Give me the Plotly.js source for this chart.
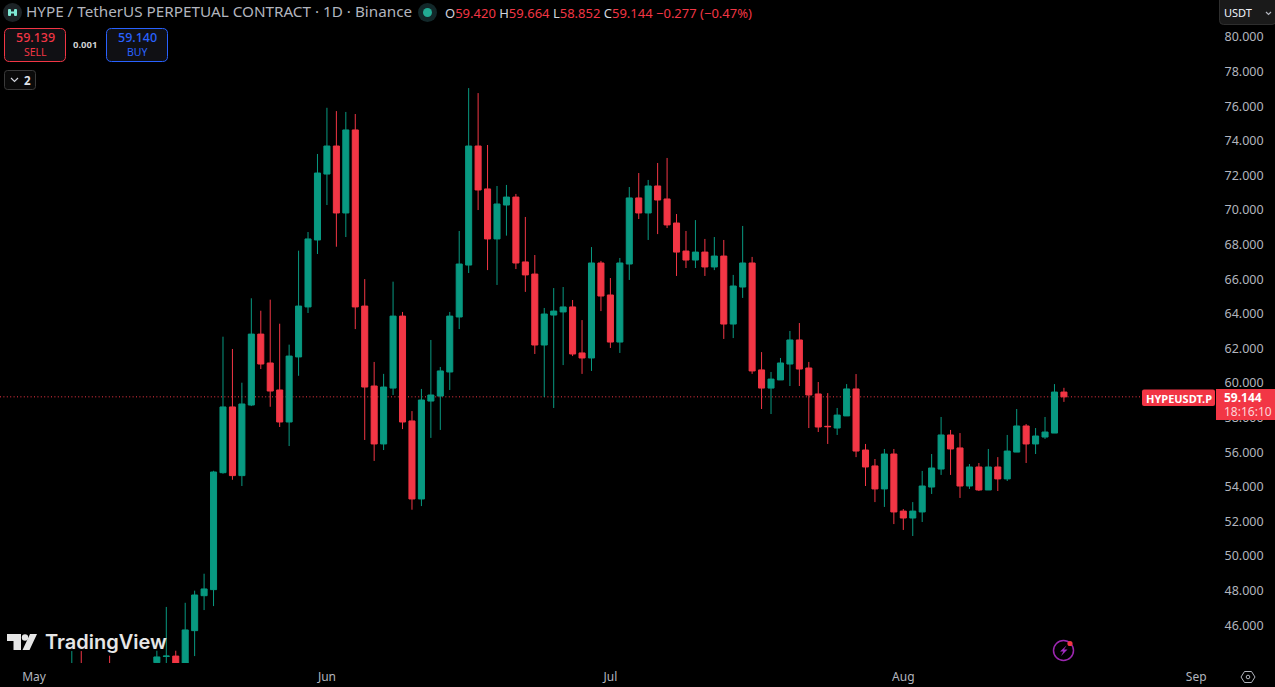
<!DOCTYPE html>
<html>
<head>
<meta charset="utf-8">
<script src="https://cdn.plot.ly/plotly-3.0.1.min.js"></script>
<style>html,body{margin:0;padding:0;background:#000;overflow:hidden}#chart{width:1275px;height:687px}</style>
</head>
<body>
<div id="chart"></div>
<script>
const dates = ["2025-05-05","2025-05-06","2025-05-09","2025-05-14","2025-05-15","2025-05-16","2025-05-17","2025-05-18","2025-05-19","2025-05-20","2025-05-21","2025-05-22","2025-05-23","2025-05-24","2025-05-25","2025-05-26","2025-05-27","2025-05-28","2025-05-29","2025-05-30","2025-05-31",
"2025-06-01","2025-06-02","2025-06-03","2025-06-04","2025-06-05","2025-06-06","2025-06-07","2025-06-08","2025-06-09","2025-06-10","2025-06-11","2025-06-12","2025-06-13","2025-06-14","2025-06-15","2025-06-16","2025-06-17","2025-06-18","2025-06-19","2025-06-20","2025-06-21","2025-06-22","2025-06-23","2025-06-24","2025-06-25","2025-06-26","2025-06-27","2025-06-28","2025-06-29","2025-06-30",
"2025-07-01","2025-07-02","2025-07-03","2025-07-04","2025-07-05","2025-07-06","2025-07-07","2025-07-08","2025-07-09","2025-07-10","2025-07-11","2025-07-12","2025-07-13","2025-07-14","2025-07-15","2025-07-16","2025-07-17","2025-07-18","2025-07-19","2025-07-20","2025-07-21","2025-07-22","2025-07-23","2025-07-24","2025-07-25","2025-07-26","2025-07-27","2025-07-28","2025-07-29","2025-07-30","2025-07-31",
"2025-08-01","2025-08-02","2025-08-03","2025-08-04","2025-08-05","2025-08-06","2025-08-07","2025-08-08","2025-08-09","2025-08-10","2025-08-11","2025-08-12","2025-08-13","2025-08-14","2025-08-15","2025-08-16","2025-08-17","2025-08-18"];
const opens = [43.2,43.6,43.5,43.78,44.14,44.16,43.76,45.63,47.65,48.0,54.76,58.56,54.59,58.67,62.77,61.10,59.54,57.69,61.45,64.34,68.21,
72.02,73.64,69.77,74.57,64.39,59.77,56.42,59.65,63.81,57.75,53.24,58.90,59.19,60.58,63.76,66.76,73.64,71.16,68.27,70.23,70.69,66.94,66.24,62.14,63.87,64.05,64.34,61.68,61.39,66.88,
65.03,62.31,66.82,70.64,69.77,71.33,70.58,69.19,67.57,67.05,67.51,66.65,67.28,63.35,65.49,66.88,60.70,59.65,60.12,61.04,62.43,60.81,59.31,57.44,57.34,58.04,59.60,56.07,55.15,53.82,55.84,
52.54,52.14,52.49,53.93,54.97,56.94,56.19,53.99,55.09,53.76,55.09,54.40,55.95,57.46,56.42,56.82,57.05,59.42];
const highs = [44.45,44.45,44.18,44.47,47.00,44.47,47.24,47.94,48.92,54.87,62.62,61.91,59.96,64.84,64.12,64.76,63.37,62.16,67.59,68.67,73.18,
75.85,75.66,75.61,75.49,65.95,61.16,60.47,65.80,64.05,58.32,59.60,62.43,60.87,64.05,68.73,76.99,76.70,73.70,71.33,71.39,70.87,69.54,67.34,64.28,65.43,65.49,64.74,63.58,67.80,67.00,
66.01,67.17,71.27,72.08,71.68,72.66,72.95,69.71,68.73,69.36,68.27,68.38,68.21,66.19,69.02,67.23,61.73,60.58,61.39,62.95,63.41,61.16,60.00,59.36,58.50,59.88,60.46,56.42,55.55,56.13,56.13,
52.66,53.06,54.86,55.84,57.98,57.23,57.05,55.26,55.32,56.13,55.66,56.94,58.44,57.57,57.34,57.98,59.88,59.664];
const lows = [43.0,43.1,43.0,43.6,43.7,43.6,43.6,44.16,46.82,47.05,54.70,54.35,53.99,58.61,60.75,58.57,57.40,56.30,60.36,63.99,67.40,
70.23,67.82,68.38,63.06,56.65,55.44,56.07,59.25,57.28,52.62,52.83,56.77,57.23,59.54,63.06,66.30,69.94,66.47,65.61,68.46,66.53,65.21,61.62,59.13,58.50,60.98,61.50,60.47,60.64,64.10,
61.97,61.68,65.90,69.42,68.21,68.55,68.90,66.13,66.59,66.59,66.13,66.47,62.49,62.54,64.86,60.47,58.44,58.15,60.12,59.77,59.77,57.34,57.11,56.42,56.94,58.04,55.66,53.99,53.06,52.78,51.79,
51.45,51.10,51.91,53.53,54.63,54.63,53.30,53.82,53.70,53.76,53.70,54.28,55.95,55.32,55.84,56.71,57.05,58.852];
const closes = [43.5,43.3,43.2,44.11,44.16,43.76,45.67,47.69,48.04,54.80,58.56,54.59,58.73,62.77,61.04,59.48,57.69,61.50,64.39,68.27,72.08,
73.64,69.77,74.57,64.34,59.71,56.42,59.71,63.81,57.69,53.24,58.96,59.25,60.64,63.81,66.82,73.64,71.10,68.27,70.29,70.69,66.88,66.19,62.14,63.93,64.10,64.34,61.62,61.39,66.88,64.97,
62.31,66.88,70.64,69.77,71.33,70.52,69.08,67.51,67.05,67.51,66.65,67.28,63.35,65.55,66.88,60.64,59.65,60.17,61.10,62.43,60.75,59.25,57.40,57.42,58.09,59.60,56.01,55.09,53.82,55.84,52.49,
52.14,52.54,53.99,55.03,56.94,56.13,53.99,55.09,53.76,55.09,54.40,56.01,57.46,56.42,56.88,57.11,59.42,59.144];

const monthTickVals = ["2025-05-01","2025-06-01","2025-07-01","2025-08-01","2025-09-01"];
const monthTickText = ["May","Jun","Jul","Aug","Sep"];
const priceTickVals = [46,48,50,52,54,56,58,60,62,64,66,68,70,72,74,76,78,80];
const lastPrice = 59.144;

const GREEN = "#089981", RED = "#f23645", BLUE = "#2962ff", AXIS = "#b2b5be";
const FONT = "'Noto Sans', sans-serif";
const PW = 1217, PH = 663;
const X = x => x / PW, Y = y => 1 - y / PH;

function note(x, y, text, size, color, anchor, family, weight) {
  return {xref:"paper", yref:"paper", x:X(x), y:Y(y), text, showarrow:false, xanchor:anchor||"left", yanchor:"middle",
    font:{size, color, family:family||FONT, weight:weight||400}, borderpad:0, borderwidth:0};
}
function pts(list, close) {
  return list.map((p,i)=>(i?"L":"M")+X(p[0])+","+Y(p[1])).join(" ")+(close?" Z":"");
}
function poly(list, fill, stroke, w) {
  return {type:"path", xref:"paper", yref:"paper", layer:"above", path:pts(list, !!fill),
    fillcolor:fill||"rgba(0,0,0,0)", line:{color:stroke||"rgba(0,0,0,0)", width:stroke?(w||1):0}};
}
function rr(x0,y0,x1,y1,r,fill,stroke,w) {
  const q=(a,b)=>X(a)+","+Y(b);
  const path="M"+q(x0+r,y0)+" L"+q(x1-r,y0)+" Q"+q(x1,y0)+" "+q(x1,y0+r)+" L"+q(x1,y1-r)+" Q"+q(x1,y1)+" "+q(x1-r,y1)+
    " L"+q(x0+r,y1)+" Q"+q(x0,y1)+" "+q(x0,y1-r)+" L"+q(x0,y0+r)+" Q"+q(x0,y0)+" "+q(x0+r,y0)+" Z";
  return {type:"path", xref:"paper", yref:"paper", layer:"above", path, fillcolor:fill,
    line:{color:stroke||"rgba(0,0,0,0)", width:stroke?(w||1):0}};
}
function circ(cx,cy,r,fill,stroke,w) {
  return {type:"circle", xref:"paper", yref:"paper", layer:"above", x0:X(cx-r), x1:X(cx+r), y0:Y(cy+r), y1:Y(cy-r),
    fillcolor:fill||"rgba(0,0,0,0)", line:{color:stroke||"rgba(0,0,0,0)", width:stroke?(w||1):0}};
}

const shapes = [
  {type:"line", xref:"paper", yref:"y", layer:"below", x0:0, x1:X(1143), y0:lastPrice, y1:lastPrice, line:{color:RED, width:1, dash:"1px,2.4px"}},
  // symbol icon
  circ(12.5,12.5,9.5,"#1c2226"),
  rr(8,9,11,16,1,"#7fe8d5"), rr(14,9,17,16,1,"#7fe8d5"), rr(10,11.5,15,13.5,0,"#7fe8d5"),
  // market status dot
  circ(427.5,12.5,9.5,"#12282a"), circ(427.5,12.5,4.5,"#22ab94"),
  // sell / buy / collapse
  rr(4.5,28.5,65.5,61.5,5,"#101014",RED,1), rr(106.5,28.5,167.5,61.5,5,"#101014",BLUE,1),
  rr(4.5,70.5,35.5,89.5,3,"#0a0a0a","#3a3a3a",1),
  poly([[11,78],[14.5,81.5],[18,78]],null,"#d1d4dc",1.2),
  // currency button
  rr(1219.5,-6,1276,24.5,4,"#1a1a1a","#2e2e2e",1),
  poly([[1266,12],[1268.5,14.5],[1271,12]],null,"#b2b5be",1.2),
  // last price labels
  rr(1142,389.5,1215,406,2,RED), {type:"rect", xref:"paper", yref:"paper", layer:"above", x0:X(1216), x1:X(1275), y0:Y(420), y1:Y(389), fillcolor:RED, line:{width:0}},
  // logo mark
  poly([[7,634],[21,634],[21,650],[13.5,650],[13.5,641],[7,641]],"#e6e6e6"),
  circ(25,637.5,3.2,"#e6e6e6"),
  poly([[30,634],[37,634],[29.5,650],[22.5,650]],"#e6e6e6"),
  // bolt badge
  circ(1063.5,650.5,10,"rgba(0,0,0,0)","#9c27b0",1.5),
  poly([[1066.5,645.5],[1060,651.5],[1063.3,651.5],[1061,656],[1067.5,649.5],[1064,649.5]],"#a32cc4"),
  circ(1070,643.5,2.6,RED),
  // settings hexagon
  poly([[1241,677],[1244.5,671.5],[1251.5,671.5],[1255,677],[1251.5,682.5],[1244.5,682.5]],"rgba(0,0,0,0)",AXIS,1),
  circ(1248,677,1.8,"rgba(0,0,0,0)",AXIS,1)
];

const annotations = [
  note(445,12.5,
    "<span style='color:#d1d4dc'>O</span>59.420 <span style='color:#d1d4dc'>H</span>59.664 <span style='color:#d1d4dc'>L</span>58.852 <span style='color:#d1d4dc'>C</span>59.144 −0.277 (−0.47%)",
    13,RED),
  note(35,37.5,"59.139",12.5,RED,"center",FONT,500), note(35,52.5,"SELL",10.5,RED,"center"),
  note(85,44.5,"<b>0.001</b>",9.5,"#cfcfcf","center"),
  note(137,37.5,"59.140",12.5,BLUE,"center",FONT,500), note(137,52.5,"BUY",10.5,BLUE,"center"),
  note(27,80,"<b>2</b>",11.5,"#e0e3eb","center"),
  note(1224,12.5,"USDT",11,"#f0f3fa"),
  note(1179,398,"<b>HYPEUSDT.P</b>",11,"#ffffff","center"),
  note(1224,397.5,"<b>59.144</b>",12,"#ffffff"),
  note(1224,411.5,"18:16:10",12,"#fcd5d9"),
  note(45,642,"TradingView",20,"#e6e6e6","left","Inter, sans-serif",600)
];

Plotly.newPlot("chart",[{
  type:"candlestick", x:dates, open:opens, high:highs, low:lows, close:closes,
  whiskerwidth:0, hoverinfo:"skip",
  increasing:{line:{color:GREEN,width:1}, fillcolor:GREEN},
  decreasing:{line:{color:RED,width:1}, fillcolor:RED}
}],{
  width:1275, height:687,
  margin:{l:0,r:58,t:0,b:24,pad:0},
  paper_bgcolor:"#000", plot_bgcolor:"#000",
  showlegend:false, hovermode:false, boxmode:"overlay", boxgap:0.36, boxgroupgap:0,
  title:{text:"HYPE / TetherUS PERPETUAL CONTRACT · 1D · Binance", x:26/1275, xref:"container", xanchor:"left", y:1-12/687, yref:"container", yanchor:"middle",
    font:{size:15.25,color:"#b2b5be",family:FONT}, pad:{t:0,b:0,l:0,r:0}},
  xaxis:{type:"date", range:["2025-04-27 09:36","2025-09-03 04:48"], rangeslider:{visible:false}, showgrid:false, zeroline:false, showline:false,
    tickmode:"array", tickvals:monthTickVals, ticktext:monthTickText, ticks:"outside", ticklen:3, tickcolor:"rgba(0,0,0,0)",
    tickfont:{size:12,color:AXIS,family:FONT}, fixedrange:true},
  yaxis:{side:"right", range:[43.76,82.08], showgrid:false, zeroline:false, showline:false,
    tickmode:"array", tickvals:priceTickVals, tickformat:".3f", ticks:"outside", ticklen:4, tickcolor:"rgba(0,0,0,0)", ticklabelshift:1,
    tickfont:{size:12.5,color:AXIS,family:FONT}, fixedrange:true},
  shapes, annotations
},{displayModeBar:false, responsive:false});
</script>
</body>
</html>
